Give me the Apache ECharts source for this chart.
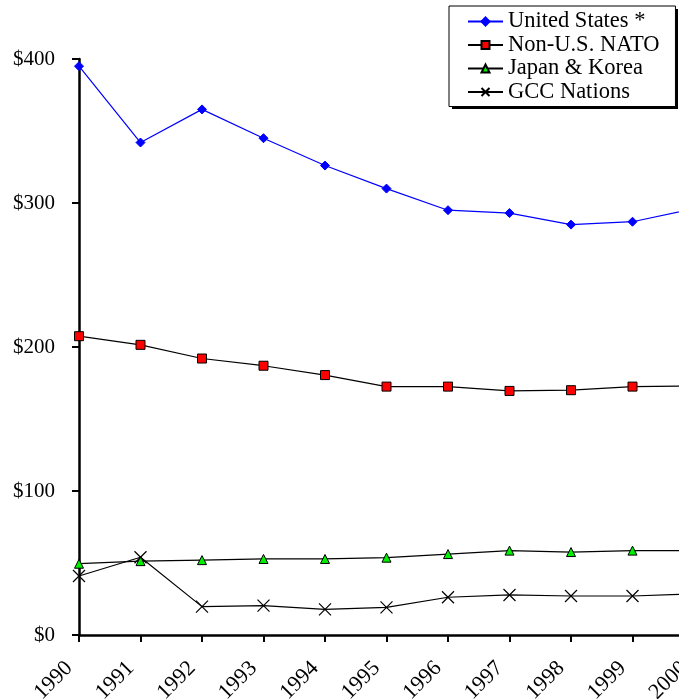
<!DOCTYPE html>
<html>
<head>
<meta charset="utf-8">
<script src="https://cdn.jsdelivr.net/npm/echarts@6/dist/echarts.min.js"></script>
<style>html,body{margin:0;padding:0;background:#fff}#c{width:679px;height:700px}</style>
</head>
<body>
<div id="c"></div>
<script>
var years = ['1990','1991','1992','1993','1994','1995','1996','1997','1998','1999','2000'];
var unitedStates = [395, 342, 365, 345, 326, 310, 295, 293, 285, 287, 296];
var nonUSNato = [207.5, 201.5, 192, 187, 180.5, 172.5, 172.5, 169.5, 170, 172.5, 173];
var japanKorea = [49.5, 51.3, 52, 52.8, 52.8, 53.7, 56.2, 58.6, 57.6, 58.6, 58.6];
var gccNations = [41, 54, 19.7, 20.4, 17.8, 19.2, 26.2, 27.8, 27.1, 27.1, 28.5];
var yTicks = ['$0','$100','$200','$300','$400'];

var FONT = 'Liberation Serif';
var chart = echarts.init(document.getElementById('c'), null, {renderer:'canvas'});
chart.setOption({
  animation: false,
  backgroundColor: '#fff',
  graphic: [{type: 'rect', z: 0, shape: {x: 452, y: 9, width: 226, height: 100},
             style: {fill: '#000'}, silent: true}],
  legend: {
    orient: 'vertical',
    left: 449, top: 6,
    padding: [4, 16, 3, 18],
    itemWidth: 35, itemHeight: 10, itemGap: 0.5,
    backgroundColor: '#fff',
    borderColor: '#000', borderWidth: 1,
    textStyle: {fontFamily: FONT, fontSize: 22.5, lineHeight: 22.3, color: '#000'},
    data: ['United States *','Non-U.S. NATO','Japan & Korea','GCC Nations']
  },
  grid: {left: 79, top: 59, bottom: 65, width: 615, outerBoundsMode: 'none'},
  xAxis: {
    type: 'category', data: years, boundaryGap: false,
    axisLine: {lineStyle: {color: '#000', width: 2.5}},
    axisTick: {show: true, length: 7, lineStyle: {color: '#000', width: 2}, alignWithLabel: true},
    axisLabel: {rotate: 45, fontFamily: FONT, fontSize: 22, color: '#000', margin: 20,
      padding: [0, 14, 0, 0], interval: 0, hideOverlap: false},
    splitLine: {show: false}
  },
  yAxis: {
    type: 'value', min: 0, max: 400, interval: 100,
    axisLine: {show: true, lineStyle: {color: '#000', width: 2.5}},
    axisTick: {show: true, length: 7, lineStyle: {color: '#000', width: 2}},
    axisLabel: {fontFamily: FONT, fontSize: 21, color: '#000', margin: 24,
      formatter: function(v){ return yTicks[Math.round(v/100)]; }},
    splitLine: {show: false}
  },
  series: [
    {name: 'United States *', type: 'line', data: unitedStates,
     symbol: 'diamond', symbolSize: 9,
     lineStyle: {color: '#0000ff', width: 1.2},
     itemStyle: {color: '#0000ff', borderColor: '#0000ff', borderWidth: 1}},
    {name: 'Non-U.S. NATO', type: 'line', data: nonUSNato,
     symbol: 'rect', symbolSize: 9,
     lineStyle: {color: '#000', width: 1.2},
     itemStyle: {color: '#ff0000', borderColor: '#000', borderWidth: 1}},
    {name: 'Japan & Korea', type: 'line', data: japanKorea,
     symbol: 'triangle', symbolSize: 9,
     lineStyle: {color: '#000', width: 1.2},
     itemStyle: {color: '#00ee00', borderColor: '#000', borderWidth: 1}},
    {name: 'GCC Nations', type: 'line', data: gccNations,
     symbol: 'path://M0,0L10,10M10,0L0,10', symbolSize: 12,
     lineStyle: {color: '#000', width: 1.2},
     itemStyle: {color: 'none', borderColor: '#000', borderWidth: 1.2}}
  ]
});
</script>
</body>
</html>
